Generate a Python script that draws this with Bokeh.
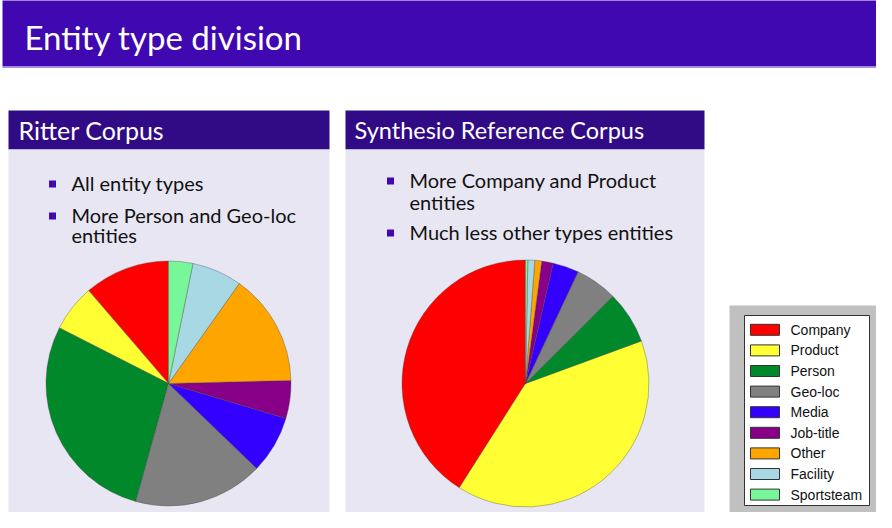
import numpy as np
from bokeh.plotting import figure
from bokeh.models import Range1d, ColumnDataSource
from bokeh.core.properties import value
from bokeh.embed import file_html
from bokeh.resources import INLINE

# ---- data ----
categories = ["Company", "Product", "Person", "Geo-loc", "Media",
              "Job-title", "Other", "Facility", "Sportsteam"]
colors = ["#ff0000", "#ffff33", "#00882a", "#808080", "#3300ff",
          "#880088", "#ffa500", "#a8d8e4", "#77f799"]
ritter_share = [11.3, 6.2, 28.2, 17.1, 7.6, 5.0, 14.8, 6.6, 3.2]
synthesio_share = [41.0, 39.6, 6.9, 5.5, 3.4, 1.5, 0.9, 0.9, 0.3]

slide_title = "Entity type division"
ritter_title = "Ritter Corpus"
ritter_bullets = [["All entity types"], ["More Person and Geo-loc", "entities"]]
synth_title = "Synthesio Reference Corpus"
synth_bullets = [["More Company and Product", "entities"], ["Much less other types entities"]]

# ---- style ----
FONT = "Lato"
TITLE_BAR = "#4008b0"
HEADER_BAR = "#300b85"
BODY_BG = "#e8e6f2"
BULLET = "#3f08b0"

W, H = 876, 512
p = figure(width=W, height=H, x_range=Range1d(8, 8 + W), y_range=Range1d(-(8 + H), -8),
           output_backend="svg", toolbar_location=None, min_border=0,
           x_axis_type=None, y_axis_type=None)
p.grid.visible = False
p.outline_line_color = None
p.background_fill_color = "white"
p.border_fill_color = "white"


def box(l, r, t, b, color, **kw):
    p.quad(left=[l], right=[r], top=[-t], bottom=[-b], fill_color=color,
           line_color=kw.get("line_color", None), line_width=kw.get("line_width", 1))


def txt(x, base, s, size, color="black", font=FONT):
    # base = wanted baseline (page px); compensate renderer's baseline offset
    y = base - 0.37 * size
    p.text(x=[x], y=[-y], text=[s], text_font=value(font), text_font_size=f"{size}px",
           text_color=color, text_baseline="alphabetic", text_align="left")


# slide title bar
box(10, 900, 6, 74, TITLE_BAR)
box(10, 900, 74, 75.5, "#a88ee6")
txt(32, 57, slide_title, 33, "white")


def block(l, r, title, title_size, bullets, text_x, bullet_x, baselines, title_x, title_base):
    box(l, r, 118, 157, HEADER_BAR)
    box(l, r, 157, 530, BODY_BG)
    txt(title_x, title_base, title, title_size, "white")
    i = 0
    for item in bullets:
        for j, line in enumerate(item):
            yb = baselines[i]
            if j == 0:
                box(bullet_x, bullet_x + 7, yb - 10, yb - 3, BULLET)
            txt(text_x, yb, line, 20, "#111111")
            i += 1


block(16, 337, ritter_title, 25, ritter_bullets, 79, 56.5, [198, 230, 250], 26, 147)
block(353, 712, synth_title, 23.5, synth_bullets, 417, 394.5, [195, 217, 247], 362, 146)


def pie(cx, cy, r, shares):
    s = np.array(shares, float)
    frac = s / s.sum()
    cum = np.concatenate([[0.0], np.cumsum(frac)])
    src = ColumnDataSource(dict(start=np.pi / 2 + 2 * np.pi * cum[:-1],
                                end=np.pi / 2 + 2 * np.pi * cum[1:],
                                color=colors, cat=categories))
    p.wedge(x=cx, y=-cy, radius=r, start_angle="start", end_angle="end",
            direction="anticlock", fill_color="color", line_color="#444444",
            line_width=0.6, line_alpha=0.6, source=src)


pie(176, 391, 122.5, ritter_share)
pie(533, 391, 123.5, synthesio_share)

# legend
box(737, 900, 313, 530, "#c0c0c0")
box(752, 877, 323, 513, "white", line_color="#333333", line_width=1)
row_y = [337.3 + i * 20.6 for i in range(len(categories))]
p.quad(left=[758] * len(categories), right=[787] * len(categories),
       top=[-(y - 5.5) for y in row_y], bottom=[-(y + 5.5) for y in row_y],
       fill_color=colors, line_color="#333333", line_width=1)
p.text(x=[798] * len(categories), y=[-y for y in row_y], text=categories,
       text_font=value("Liberation Sans"), text_font_size="14px", text_color="#111111",
       text_baseline="middle", text_align="left")

open("out.html", "w").write(file_html(p, INLINE))
